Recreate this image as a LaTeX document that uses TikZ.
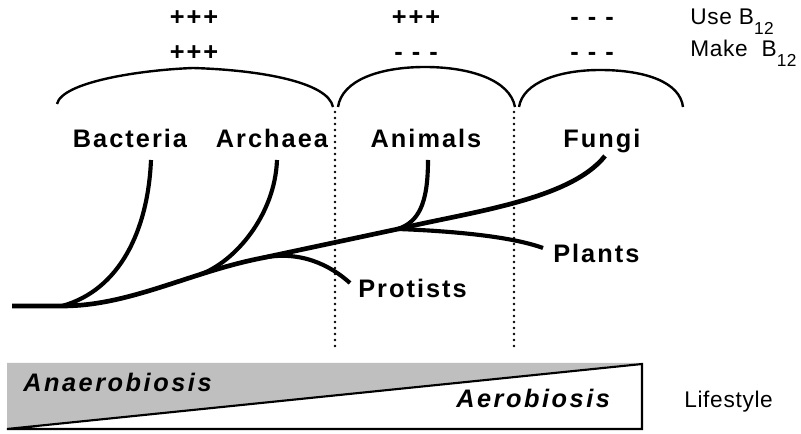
\documentclass[tikz,border=0pt]{standalone}
\usepackage{fontspec}
\setmainfont{Liberation Sans}[LetterSpace=3, BoldFeatures={LetterSpace=8}, BoldItalicFeatures={LetterSpace=10}]
\begin{document}
\begin{tikzpicture}[x=0.75pt,y=0.75pt,yscale=-1,xscale=1,
    taxon/.style={anchor=base,inner sep=0.75pt,font=\fontsize{19}{21}\selectfont\bfseries},
    score/.style={anchor=base,inner sep=0.75pt,font=\fontsize{19}{21}\selectfont\bfseries},
    caption/.style={anchor=base west,inner sep=0.75pt,font=\fontsize{17}{19}\selectfont},
    oxy/.style={anchor=base west,inner sep=0.75pt,font=\fontsize{19}{21}\selectfont\bfseries\itshape},
    trunk/.style={line width=3.5pt},
    branch/.style={line width=3.1pt},
    clade/.style={line width=1.8pt},
    divider/.style={line width=2pt,dash pattern=on 0pt off 4.5pt,line cap=round},
    wedge/.style={line width=1.6pt,line join=miter}]
\useasboundingbox (0,0) rectangle (801,434);

% Text Node
\draw (194,26) node [score] (useBac) {+++};
% Text Node
\draw (416,26) node [score] (useAni) {+++};
% Text Node
\draw (592,26) node [score] (useFun) {- - -};
% Text Node
\draw (194,61) node [score] (makeBac) {+++};
% Text Node
\draw (416,61) node [score] (makeAni) {- - -};
% Text Node
\draw (592,61) node [score] (makeFun) {- - -};
% Text Node
\draw (689,25) node [caption] (useB) {Use B\raisebox{-7pt}{\fontsize{13}{13}\selectfont 12}};
% Text Node
\draw (689,57) node [caption] (makeB) {Make\ \ B\raisebox{-7pt}{\fontsize{13}{13}\selectfont 12}};

%Curve Lines
\draw [clade] (57,104) .. controls (62,82) and (140,70) .. (193,68) .. controls (260,70) and (328,82) .. (333,107) ;
%Curve Lines
\draw [clade] (338,107) .. controls (342,80) and (380,67) .. (425,67) .. controls (470,67) and (510,80) .. (515,107) ;
%Curve Lines
\draw [clade] (519,107) .. controls (523,82) and (560,70) .. (600,70) .. controls (645,70) and (680,82) .. (683,107) ;

%Straight Lines
\draw [divider] (335,112) -- (335,347) ;
\draw [divider] (514,112) -- (514,347) ;

% Text Node
\draw (130,148) node [taxon] (bac) {Bacteria};
% Text Node
\draw (272,148) node [taxon] (arc) {Archaea};
% Text Node
\draw (426,148) node [taxon] (ani) {Animals};
% Text Node
\draw (602,148) node [taxon] (fun) {Fungi};
% Text Node
\draw (552,263) node [taxon,anchor=base west] (pla) {Plants};
% Text Node
\draw (357,298) node [taxon,anchor=base west] (pro) {Protists};

% tips and forks
\coordinate (root) at (12,306);
\coordinate (forkBac) at (62,306);
\coordinate (forkArc) at (200,274.5);
\coordinate (forkPro) at (262,258);
\coordinate (forkAni) at (398,229);
\coordinate (tipBac) at (151,160);
\coordinate (tipArc) at (277,160);
\coordinate (tipAni) at (428,160);
\coordinate (tipFun) at (605,156);
\coordinate (tipPla) at (543,248);
\coordinate (tipPro) at (350,283);

%Curve Lines
\draw [trunk] (root) -- (forkBac) .. controls (130,306) and (190,272) .. (forkPro) -- (forkAni) .. controls (470,212) and (570,200) .. (tipFun) ;
%Curve Lines
\draw [branch] (tipBac) .. controls (148,230) and (120,290) .. (forkBac) ;
%Curve Lines
\draw [branch] (tipArc) .. controls (275,215) and (235,262) .. (forkArc) ;
%Curve Lines
\draw [branch] (forkPro) .. controls (300,250) and (330,265) .. (tipPro) ;
%Curve Lines
\draw [branch] (tipAni) .. controls (428,205) and (418,222) .. (forkAni) ;
%Curve Lines
\draw [branch] (forkAni) .. controls (450,231) and (510,236) .. (tipPla) ;

% Lifestyle wedge
\fill [black!25] (7,363) -- (642,363) -- (7,429) -- cycle ;
\draw [wedge] (7,429) -- (642,364) -- (642,429) -- cycle ;

% Text Node
\draw (22,392) node [oxy] (anaer) {Anaerobiosis};
% Text Node
\draw (455,408) node [oxy] (aer) {Aerobiosis};
% Text Node
\draw (683,408) node [caption] (life) {Lifestyle};

\end{tikzpicture}
\end{document}
